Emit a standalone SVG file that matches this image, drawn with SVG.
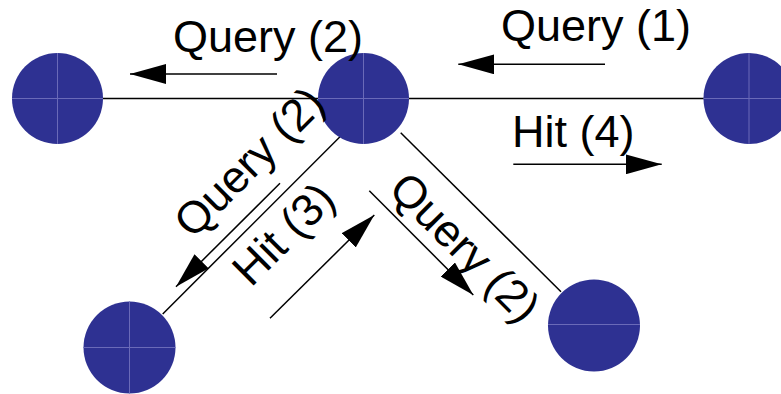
<svg xmlns="http://www.w3.org/2000/svg" width="781" height="394" viewBox="0 0 781 394">
<style>
.conn{stroke:#000;stroke-width:1.5;fill:none}
.arr{stroke:#000;stroke-width:1.5;fill:none;marker-end:url(#ah)}
.node{fill:#2e3192}
.cross{stroke:#6a6ab8;stroke-width:1;fill:none}
.lbl{font-family:"Liberation Sans",Arial,sans-serif;font-size:45px;fill:#000}
</style>
<defs>
<marker id="ah" markerUnits="userSpaceOnUse" markerWidth="36" markerHeight="20" refX="36" refY="10" orient="auto">
<path d="M0,0 L36,10 L0,20 Z" fill="#000"/>
</marker>
</defs>
<g id="connectors">
<line class="conn" x1="103" y1="98.5" x2="705" y2="98.5"/>
<line class="conn" x1="340" y1="136.7" x2="162.7" y2="314"/>
<line class="conn" x1="400.7" y1="132.7" x2="561" y2="291.7"/>
</g>
<g id="node-left">
<circle class="node" cx="57.5" cy="98.5" r="45.5"/>
<line class="cross" x1="12" y1="98.5" x2="103" y2="98.5"/>
<line class="cross" x1="57.5" y1="53" x2="57.5" y2="144"/>
</g>
<g id="node-center">
<circle class="node" cx="363.5" cy="98.5" r="45.5"/>
<line class="cross" x1="318" y1="98.5" x2="409" y2="98.5"/>
<line class="cross" x1="363.5" y1="53" x2="363.5" y2="144"/>
</g>
<g id="node-right">
<circle class="node" cx="749" cy="98.5" r="45.5"/>
<line class="cross" x1="703.5" y1="98.5" x2="794.5" y2="98.5"/>
<line class="cross" x1="749" y1="53" x2="749" y2="144"/>
</g>
<g id="node-bottom-left">
<circle class="node" cx="129.5" cy="347.5" r="46"/>
<line class="cross" x1="83.5" y1="347.5" x2="175.5" y2="347.5"/>
<line class="cross" x1="129.5" y1="301.5" x2="129.5" y2="393.5"/>
</g>
<g id="node-bottom-right">
<circle class="node" cx="594" cy="325.5" r="46"/>
<line class="cross" x1="548" y1="324.5" x2="640" y2="324.5"/>
</g>
<g id="arrows">
<line class="arr" x1="277" y1="74" x2="130" y2="74"/>
<line class="arr" x1="605" y1="64.3" x2="458.3" y2="64.3"/>
<line class="arr" x1="513.3" y1="164.3" x2="661.7" y2="164.3"/>
<line class="arr" x1="280" y1="183.3" x2="176" y2="286.7"/>
<line class="arr" x1="270" y1="318.3" x2="374.3" y2="215"/>
<line class="arr" x1="369.3" y1="190.7" x2="473.3" y2="295"/>
</g>
<g id="labels">
<text class="lbl" x="173" y="51.5">Query (2)</text>
<text class="lbl" x="501" y="41">Query (1)</text>
<text class="lbl" x="512" y="146.5">Hit (4)</text>
<text class="lbl" transform="translate(192.7,240) rotate(-45)">Query (2)</text>
<text class="lbl" transform="translate(251,288) rotate(-45)">Hit (3)</text>
<text class="lbl" transform="translate(387,191) rotate(45)">Query (2)</text>
</g>
</svg>
